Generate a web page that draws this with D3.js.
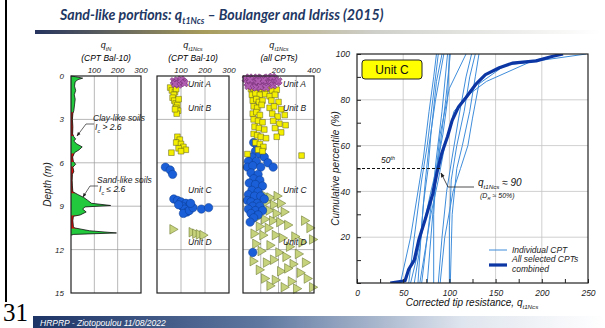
<!DOCTYPE html>
<html>
<head>
<meta charset="utf-8">
<script src="https://cdn.jsdelivr.net/npm/d3@7"></script>
<style>
  body { margin: 0; background: #fff; }
  svg { display: block; }
  text { font-family: "Liberation Sans", Arial, sans-serif; }
</style>
</head>
<body>
<div id="chart"></div>
<script>
////////////////////////////// DATA ////////////////////////////////////

// CPT Bal-10 normalized tip resistance profile
const profileDepth = [0, 0.05, 0.15, 0.25, 0.4, 0.7, 1.0, 1.3, 1.6, 2.0, 2.4, 2.6, 3.0, 3.5, 4.0, 4.2, 4.35, 4.5, 4.7, 4.9, 5.1, 5.3, 5.6, 5.9, 6.1, 6.3, 6.6, 6.8, 7.2, 7.6, 8.0, 8.2, 8.4, 8.6, 8.8, 8.95, 9.05, 9.2, 9.4, 9.6, 9.7, 10.0, 10.4, 10.5, 10.7, 10.85, 10.95, 11.0];
const profileQ     = [0, 20, 50, 30, 18, 15, 20, 14, 18, 15, 12, 8, 6, 8, 7, 12, 20, 12, 25, 48, 35, 15, 7, 10, 20, 8, 12, 6, 5, 6, 8, 30, 55, 72, 88, 170, 60, 50, 65, 40, 10, 8, 10, 15, 80, 195, 12, 0];
// depth ranges with Ic > 2.6 (clay-like)
const clayBands = [[2.5, 4.15], [5.35, 5.95], [6.25, 8.1], [9.65, 10.55]];

// q_t1Ncs for CPT Bal-10, [q, depth]
const bal10A = [[70,0.35],[78,0.45],[85,0.3],[95,0.5],[102,0.35],[110,0.4],[90,0.6],[75,0.55],[100,0.25],[115,0.5]];
const bal10B = [[55,0.8],[62,1.0],[75,1.1],[80,0.9],[70,1.3],[65,1.5],[72,1.7],[78,1.9],[85,2.0],[80,2.2],[88,2.4],[82,2.6],[90,1.6],[75,2.3],
                [85,4.2],[95,4.4],[80,4.6],[100,4.7],[110,4.9],[90,5.0],[120,5.1],[60,5.3],[100,5.2]];
const bal10C = [[35,6.3],[55,6.5],[65,6.8],[70,8.5],[85,8.6],[100,8.7],[120,8.8],[130,9.0],[105,9.0],[115,9.2],[125,9.4],[110,9.5],[135,9.3],[150,9.1],[185,9.2],[215,9.1],[90,8.9],[140,8.8]];
const bal10D = [[65,10.6],[145,10.8],[160,10.9],[175,10.95],[190,11.0]];

// q_t1Ncs for all CPTs, [q, depth]
const allA = [[15,0.2],[25,0.5],[35,0.1],[45,0.4],[55,0.6],[60,0.2],[70,0.45],[80,0.1],[90,0.7],[95,0.3],[105,0.5],[110,0.15],[120,0.6],[130,0.35],[140,0.1],
              [150,0.55],[160,0.3],[170,0.65],[180,0.2],[190,0.45],[50,0.75],[75,0.8],[100,0.75],[130,0.8],[30,0.7],[165,0.05],[200,0.35],[115,0.3],[85,0.35],[40,0.25]];
const allB = [[45,0.9],[60,0.85],[80,0.95],[100,0.9],[120,1.0],[140,0.9],[165,1.0],[190,0.95],[50,1.3],[70,1.2],[95,1.3],[125,1.25],[150,1.4],[180,1.3],
              [55,1.7],[75,1.6],[90,1.8],[110,1.7],[160,1.7],[200,1.8],[60,2.1],[80,2.2],[105,2.0],[150,2.2],[175,2.1],[215,2.3],
              [55,2.6],[75,2.5],[95,2.7],[165,2.6],[195,2.8],[235,2.7],[60,3.0],[85,3.1],[110,3.2],[170,3.1],[205,3.3],[240,3.4],
              [65,3.5],[90,3.6],[120,3.7],[180,3.6],[215,3.9],[60,4.0],[80,4.1],[100,4.2],[130,4.3],[190,4.2],
              [70,4.6],[95,4.7],[115,4.9],[85,5.1],[110,5.2],[25,5.4],[330,5.5]];
const allC = [[60,4.6],[80,4.8],[105,5.0],[70,5.2],[95,5.4],[50,5.6],[120,5.6],[30,5.9],[75,5.9],[140,6.0],[25,6.3],[55,6.2],[100,6.3],[170,6.3],
              [45,6.7],[85,6.8],[60,7.1],[95,7.2],[35,7.4],[70,7.5],[110,7.6],[50,7.9],[85,8.0],[30,8.2],[65,8.3],[100,8.3],[120,8.5],
              [25,8.6],[45,8.7],[80,8.8],[55,9.0],[95,9.0],[30,9.2],[70,9.3],[110,9.3],[45,9.5],[85,9.6],[60,9.8],[40,10.1],[55,12.2]];
const allD = [[110,8.2],[150,8.4],[190,8.3],[130,8.7],[170,8.9],[210,8.8],[100,9.2],[145,9.3],[185,9.5],[230,9.4],[75,9.8],[120,9.9],[165,10.0],
              [205,10.1],[90,10.4],[140,10.5],[250,10.3],[345,10.0],[375,10.5],[60,10.9],[110,11.0],[180,11.0],[220,11.2],[290,11.1],[330,11.5],
              [70,11.6],[150,11.7],[260,11.8],[390,11.3],[100,12.1],[200,12.2],[240,12.5],[310,12.3],[55,12.8],[130,12.9],[170,12.7],[280,13.0],
              [350,12.9],[90,13.4],[210,13.5],[250,13.3],[320,13.6],[120,14.0],[180,14.1],[270,14.2],[360,14.0],[150,14.5],[230,14.6],[300,14.7],[390,14.6]];

// Unit C cumulative distributions, [q_t1Ncs, percentile]
const individualCPT = [
  [[47,0],[58,20],[66,40],[72,55],[78,75],[83,90],[86,100]],
  [[56,0],[62,20],[70,45],[76,60],[82,80],[88,100]],
  [[62,0],[68,15],[72,35],[77,50],[80,65],[86,88],[92,100]],
  [[66,0],[70,25],[74,45],[78,60],[85,80],[94,100]],
  [[70,0],[76,20],[82,40],[86,55],[92,75],[98,100]],
  [[76,0],[80,20],[84,40],[90,60],[96,80],[101,100]],
  [[83,0],[83,30],[86,50],[90,65],[100,85],[118,100]],
  [[88,0],[92,20],[97,40],[103,55],[110,72],[118,90],[124,100]],
  [[100,0],[100,25],[102,45],[108,60],[116,75],[122,90],[128,100]],
  [[101,0],[103,30],[108,50],[114,60],[122,75],[128,90],[132,100]],
  [[90,0],[95,20],[104,40],[112,50],[120,60],[125,72],[132,87],[160,95],[248,100]],
  [[68,0],[74,15],[80,30],[88,45],[95,60],[105,75],[120,82],[140,88],[190,97],[220,100]],
  [[58,0],[64,10],[72,25],[80,40],[86,50],[93,65],[98,80],[100,100]]
];
const combinedCPT = [[36,0],[52,1],[56,6],[62,10],[67,19],[74,28],[82,39],[87,49],[92,57],[98,64],[103,71],[110,77],[118,81],
                     [129,87],[139,91],[154,94],[168,96],[194,97],[212,99],[223,100]];

const depthTicks = [0, 3, 6, 9, 12, 15];

////////////////////////////// SET UP ////////////////////////////////////

const svg = d3.select("#chart").append("svg").attr("width", 605).attr("height", 328);
const defs = svg.append("defs");

function gradient(id, stops) {
  const g = defs.append("linearGradient").attr("id", id);
  stops.forEach(([o, c]) => g.append("stop").attr("offset", o).attr("stop-color", c));
}
gradient("rule", [[0, "#26345f"], [0.3, "#a89c5c"], [0.6, "#cfcfca"], [1, "#ffffff"]]);
gradient("foot", [[0, "#1d3466"], [0.4, "#5f78a0"], [0.75, "#dfe5ee"], [1, "#ffffff"]]);

defs.append("marker").attr("id", "arrow").attr("viewBox", "0 0 10 10")
  .attr("refX", 9).attr("refY", 5).attr("markerWidth", 6).attr("markerHeight", 6)
  .attr("orient", "auto-start-reverse")
  .append("path").attr("d", "M0,1 L10,5 L0,9 z").attr("fill", "#222");

// text with sub/superscripts: parts = [[string, shift]], shift 1 = sub, -1 = sup
function richText(sel, x, y, parts, size, anchor, style) {
  const t = sel.append("text").attr("x", x).attr("y", y).attr("font-size", size)
    .attr("font-style", style || "italic").attr("text-anchor", anchor || "start").attr("fill", "#111");
  let shift = 0;
  parts.forEach(([s, sub]) => {
    const off = sub ? sub * size * 0.3 : 0;
    t.append("tspan").attr("dy", off - shift).attr("font-size", sub ? size * 0.62 : size).text(s);
    shift = off;
  });
  return t;
}

////////////////////////////// SLIDE CHROME ////////////////////////////////////

svg.append("line").attr("x1", 6).attr("x2", 6).attr("y1", 0).attr("y2", 302)
  .attr("stroke", "#000").attr("stroke-width", 2);

richText(svg, 60, 20, [["Sand-like portions: q", 0], ["t1Ncs", 1], [" \u2013 Boulanger and Idriss (2015)", 0]], 14.2, "start")
  .attr("font-weight", "bold").style("font-family", "Lato, 'Open Sans', sans-serif").attr("fill", "#1f3864");

svg.append("rect").attr("x", 35).attr("y", 30).attr("width", 565).attr("height", 4).attr("fill", "url(#rule)");

svg.append("rect").attr("x", 33).attr("y", 316).attr("width", 572).attr("height", 12).attr("fill", "url(#foot)");
svg.append("text").attr("x", 40).attr("y", 325.5).attr("font-size", 8.5).attr("font-style", "italic")
  .attr("fill", "#fff").text("HRPRP - Ziotopoulou 11/08/2022");
svg.append("text").attr("x", 3).attr("y", 321).attr("font-size", 25)
  .style("font-family", "'Liberation Serif', serif").attr("fill", "#000").text("31");

////////////////////////////// DEPTH PANELS ////////////////////////////////////

const depthY = d3.scaleLinear().domain([0, 15]).range([76, 293]);
const p1x = d3.scaleLinear().domain([0, 300]).range([71, 141]);
const p2x = d3.scaleLinear().domain([0, 300]).range([157, 229]);
const p3x = d3.scaleLinear().domain([0, 400]).range([243, 314]);

function depthPanel(xs, grid, labels) {
  const g = svg.append("g");
  const [x0, x1] = xs.range();
  g.selectAll(".hg").data(depthTicks.slice(1, -1)).join("line")
    .attr("x1", x0).attr("x2", x1).attr("y1", depthY).attr("y2", depthY)
    .attr("stroke", "#999").attr("stroke-width", 0.7);
  g.selectAll(".vg").data(grid).join("line")
    .attr("x1", xs).attr("x2", xs).attr("y1", depthY(0)).attr("y2", depthY(15))
    .attr("stroke", "#999").attr("stroke-width", 0.7);
  g.selectAll(".tl").data(labels).join("text")
    .attr("x", xs).attr("y", 73).attr("text-anchor", "middle")
    .attr("font-size", 8).attr("font-style", "italic").attr("fill", "#222").text(d => d);
  return g;
}
function frame(xs) {
  const [x0, x1] = xs.range();
  svg.append("rect").attr("x", x0).attr("y", depthY(0)).attr("width", x1 - x0)
    .attr("height", depthY(15) - depthY(0)).attr("fill", "none").attr("stroke", "#222").attr("stroke-width", 1.2);
}

depthPanel(p1x, [100, 200], [100, 200, 300]);
depthPanel(p2x, [100, 200], [100, 200, 300]);
depthPanel(p3x, [100, 200, 300], [200, 400]);

// depth axis
svg.selectAll(".dl").data(depthTicks).join("text")
  .attr("x", 64).attr("y", d => depthY(d) + 3).attr("text-anchor", "end")
  .attr("font-size", 8).attr("font-style", "italic").attr("fill", "#222").text(d => d);
svg.append("text").attr("transform", `translate(51,${depthY(7.5)}) rotate(-90)`)
  .attr("text-anchor", "middle").attr("font-size", 10).attr("font-style", "italic").attr("fill", "#222").text("Depth (m)");

// panel titles
const panelTitles = [[106, "tN", "(CPT Bal-10)"], [193, "t1Ncs", "(CPT Bal-10)"], [279, "t1Ncs", "(all CPTs)"]];
panelTitles.forEach(([x, sub, line2]) => {
  richText(svg, x, 48, [["q", 0], [sub, 1]], 9, "middle");
  svg.append("text").attr("x", x).attr("y", 61).attr("text-anchor", "middle")
    .attr("font-size", 8.5).attr("font-style", "italic").text(line2);
});

// profile
const profile = profileDepth.map((d, i) => ({ d: d, q: profileQ[i] }));
const profArea = d3.area().y(p => depthY(p.d)).x0(p1x(0)).x1(p => p1x(p.q));
defs.append("clipPath").attr("id", "clay").selectAll("rect").data(clayBands).join("rect")
  .attr("x", 60).attr("width", 100).attr("y", b => depthY(b[0])).attr("height", b => depthY(b[1]) - depthY(b[0]));
svg.append("path").datum(profile).attr("d", profArea).attr("fill", "#22c93c");
svg.append("path").datum(profile).attr("d", profArea).attr("fill", "#e00a0a").attr("clip-path", "url(#clay)");
svg.append("path").datum(profile).attr("d", d3.line().y(p => depthY(p.d)).x(p => p1x(p.q)))
  .attr("fill", "none").attr("stroke", "#111").attr("stroke-width", 0.8);

// soil type annotations
function note(x, y, line1, rel, pts) {
  svg.append("text").attr("x", x).attr("y", y).attr("font-size", 8.5).attr("font-style", "italic").attr("fill", "#222").text(line1);
  richText(svg, x + 2, y + 9, [["I", 0], ["c", 1], [" " + rel, 0]], 8.5, "start");
  svg.append("polyline").attr("points", pts.map(p => p.join(",")).join(" "))
    .attr("fill", "none").attr("stroke", "#222").attr("stroke-width", 0.7).attr("marker-end", "url(#arrow)");
}
note(93, 121, "Clay-like soils", "> 2.6", [[94, 124], [86, 124], [77, 136]]);
note(97, 183, "Sand-like soils", "\u2264 2.6", [[98, 186], [90, 186], [83, 197]]);

// scatter symbols
const unitStyle = {
  A: { type: d3.symbolCross, size: 34, fill: "#b05cb0", stroke: "#6d2a6d", rot: 45 },
  B: { type: d3.symbolSquare, size: 32, fill: "#f4ee00", stroke: "#5a5a20", rot: 0 },
  C: { type: d3.symbolCircle, size: 55, fill: "#1b5fd8", stroke: "#0b3a8c", rot: 0 },
  D: { type: d3.symbolTriangle, size: 40, fill: "#c6d27c", stroke: "#5d6b20", rot: 90 }
};
function scatter(xs, pts, unit) {
  const s = unitStyle[unit];
  svg.append("g").selectAll("path").data(pts).join("path")
    .attr("d", d3.symbol(s.type, s.size))
    .attr("transform", d => `translate(${xs(d[0])},${depthY(d[1])}) rotate(${s.rot})`)
    .attr("fill", s.fill).attr("stroke", s.stroke).attr("stroke-width", 0.5);
}
scatter(p2x, bal10B, "B"); scatter(p2x, bal10C, "C"); scatter(p2x, bal10D, "D"); scatter(p2x, bal10A, "A");
scatter(p3x, allD, "D"); scatter(p3x, allC, "C"); scatter(p3x, allB, "B"); scatter(p3x, allA, "A");

const unitLabels = [["Unit A", 0.75], ["Unit B", 2.4], ["Unit C", 8.1], ["Unit D", 11.7]];
[188, 283].forEach(x => {
  svg.selectAll(null).data(unitLabels).join("text")
    .attr("x", x).attr("y", d => depthY(d[1])).attr("font-size", 8.5).attr("font-style", "italic")
    .attr("fill", "#222").text(d => d[0]);
});

frame(p1x); frame(p2x); frame(p3x);

////////////////////////////// CUMULATIVE PANEL ////////////////////////////////////

const cx = d3.scaleLinear().domain([0, 250]).range([357, 588]);
const cy = d3.scaleLinear().domain([0, 100]).range([283, 54]);
const cg = svg.append("g");

cg.selectAll(".vg").data([50, 100, 150, 200]).join("line")
  .attr("x1", cx).attr("x2", cx).attr("y1", cy(0)).attr("y2", cy(100)).attr("stroke", "#c4c4c4").attr("stroke-width", 0.8);
cg.selectAll(".hg").data([20, 40, 60, 80]).join("line")
  .attr("x1", cx(0)).attr("x2", cx(250)).attr("y1", cy).attr("y2", cy).attr("stroke", "#c4c4c4").attr("stroke-width", 0.8);

defs.append("clipPath").attr("id", "plot").append("rect")
  .attr("x", cx(0)).attr("y", cy(100)).attr("width", cx(250) - cx(0)).attr("height", cy(0) - cy(100));

const cline = d3.line().x(d => cx(d[0])).y(d => cy(d[1]));
cg.append("g").attr("clip-path", "url(#plot)").selectAll("path").data(individualCPT).join("path")
  .attr("d", cline).attr("fill", "none").attr("stroke", "#3f8ddb").attr("stroke-width", 1);
cg.append("path").datum(combinedCPT).attr("clip-path", "url(#plot)").attr("d", cline)
  .attr("fill", "none").attr("stroke", "#0b36a3").attr("stroke-width", 3.2).attr("stroke-linejoin", "round");

// axes with inward ticks
const xAxis = d3.axisBottom(cx).tickValues(d3.range(0, 251, 25)).tickSizeInner(-4).tickSizeOuter(0).tickPadding(7)
  .tickFormat(d => d % 50 === 0 ? d : "");
const yAxis = d3.axisLeft(cy).tickValues(d3.range(0, 101, 10)).tickSizeInner(-4).tickSizeOuter(0).tickPadding(7)
  .tickFormat(d => d % 20 === 0 && d > 0 ? d : "");
[cg.append("g").attr("transform", `translate(0,${cy(0)})`).call(xAxis),
 cg.append("g").attr("transform", `translate(${cx(0)},0)`).call(yAxis)].forEach(a => {
  a.select(".domain").remove();
  a.selectAll("line").attr("stroke", "#222");
  a.selectAll("text").attr("font-size", 8.5).attr("font-style", "italic").attr("fill", "#222")
    .style("font-family", "'Liberation Sans', Arial, sans-serif");
});
cg.append("rect").attr("x", cx(0)).attr("y", cy(100)).attr("width", cx(250) - cx(0)).attr("height", cy(0) - cy(100))
  .attr("fill", "none").attr("stroke", "#222").attr("stroke-width", 1.2);

richText(svg, 472, 306, [["Corrected tip resistance, q", 0], ["t1Ncs", 1]], 10, "middle");
svg.append("text").attr("transform", `translate(339,${cy(50)}) rotate(-90)`).attr("text-anchor", "middle")
  .attr("font-size", 10).attr("font-style", "italic").attr("fill", "#222").text("Cumulative percentile (%)");

// 50th percentile marker
svg.append("line").attr("x1", cx(0)).attr("x2", cx(90)).attr("y1", cy(50)).attr("y2", cy(50))
  .attr("stroke", "#111").attr("stroke-width", 1).attr("stroke-dasharray", "3,2");
richText(svg, 381, 163, [["50", 0], ["th", -1]], 8.5, "start");
svg.append("polyline").attr("points", [[474, 187], [448, 187], [441, 173]].map(p => p.join(",")).join(" "))
  .attr("fill", "none").attr("stroke", "#222").attr("stroke-width", 0.8).attr("marker-end", "url(#arrow)");
richText(svg, 478, 186, [["q", 0], ["t1Ncs", 1], [" \u2248 90", 0]], 10, "start");
richText(svg, 480, 198, [["(D", 0], ["R", 1], [" \u2248 50%)", 0]], 7, "start");

// Unit C tag
svg.append("rect").attr("x", 362).attr("y", 60).attr("width", 60).attr("height", 19).attr("rx", 3)
  .attr("fill", "#ffff00").attr("stroke", "#222").attr("stroke-width", 1);
svg.append("text").attr("x", 392).attr("y", 74).attr("text-anchor", "middle").attr("font-size", 12).attr("fill", "#111").text("Unit C");

// legend
const legend = svg.append("g");
legend.append("line").attr("x1", 489).attr("x2", 507).attr("y1", 250).attr("y2", 250).attr("stroke", "#3f8ddb").attr("stroke-width", 1);
legend.append("text").attr("x", 512).attr("y", 253).attr("font-size", 8.5).attr("font-style", "italic").attr("fill", "#222").text("Individual CPT");
legend.append("line").attr("x1", 489).attr("x2", 507).attr("y1", 265).attr("y2", 265).attr("stroke", "#0b36a3").attr("stroke-width", 3.2);
legend.append("text").attr("x", 512).attr("y", 262).attr("font-size", 8.5).attr("font-style", "italic").attr("fill", "#222").text("All selected CPTs");
legend.append("text").attr("x", 512).attr("y", 272).attr("font-size", 8.5).attr("font-style", "italic").attr("fill", "#222").text("combined");
</script>
</body>
</html>
